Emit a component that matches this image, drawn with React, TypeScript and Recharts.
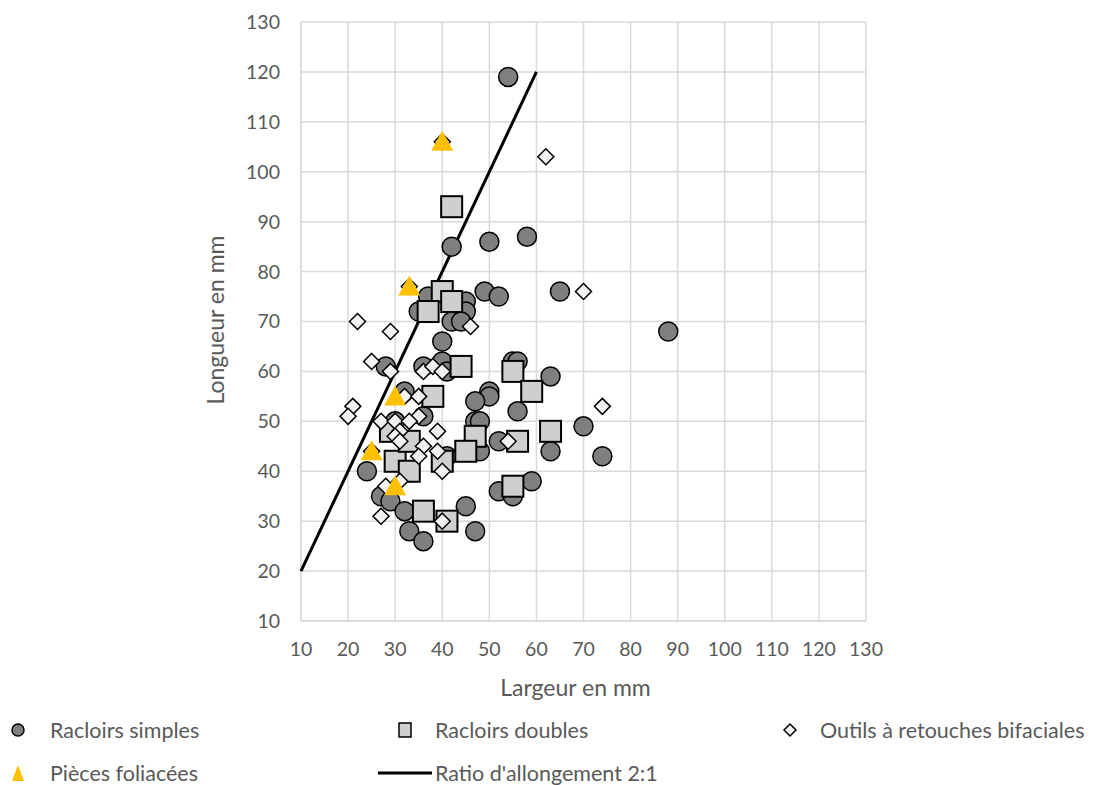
import React from 'react';
import { ScatterChart, Scatter, XAxis, YAxis, CartesianGrid } from 'recharts';

// largeur (mm), longueur (mm)
const racloirsSimples: [number, number][] = [
  [54, 119], [42, 85], [50, 86], [58, 87], [65, 76], [88, 68], [49, 76], [52, 75],
  [37, 75], [45, 74], [45, 72], [35, 72], [42, 70], [44, 70], [40, 66], [28, 61],
  [36, 61], [40, 62], [41, 60], [55, 62], [56, 62], [63, 59], [50, 56], [50, 55],
  [47, 54], [56, 52], [32, 56], [36, 51], [47, 50], [48, 50], [48, 44], [52, 46],
  [70, 49], [63, 44], [74, 43], [24, 40], [27, 35], [29, 34], [32, 32], [45, 33],
  [33, 28], [36, 26], [47, 28], [52, 36], [55, 35], [59, 38], [30, 50], [41, 43],
];

const racloirsDoubles: [number, number][] = [
  [42, 93], [40, 76], [42, 74], [37, 72], [44, 61], [55, 60], [59, 56], [38, 55],
  [47, 47], [56, 46], [63, 48], [45, 44], [40, 42], [30, 42], [33, 40], [33, 46],
  [29, 48], [36, 32], [41, 30], [55, 37],
];

const outilsBifaciaux: [number, number][] = [
  [62, 103], [70, 76], [40, 106], [33, 77], [22, 70], [29, 68], [46, 69], [25, 62],
  [29, 60], [36, 60], [38, 61], [40, 60], [21, 53], [20, 51], [32, 55], [35, 55],
  [35, 51], [27, 50], [30, 50], [33, 50], [39, 48], [31, 48], [30, 47], [31, 46],
  [36, 45], [35, 43], [39, 44], [40, 40], [28, 37], [31, 38], [27, 31], [40, 30],
  [54, 46], [74, 53], [25, 44],
];

const piecesFoliacees: [number, number][] = [
  [40, 106], [33, 77], [30, 55], [25, 44], [30, 37],
];

const ratioLine: [number, number][] = [[10, 20], [60, 120]];

const axisTicks = [10, 20, 30, 40, 50, 60, 70, 80, 90, 100, 110, 120, 130];

const toPoints = (arr: [number, number][]) => arr.map(([x, y]) => ({ x, y }));

const FONT = 'Lato, "Open Sans", sans-serif';
const TEXT = '#595959';

const CircleShape = (p: any) => (
  <circle cx={p.cx} cy={p.cy} r={9.5} fill="#7f7f7f" stroke="#000" strokeWidth={1.5} />
);
const SquareShape = (p: any) => (
  <rect x={p.cx - 10.5} y={p.cy - 10.5} width={21} height={21} fill="#d0cece" stroke="#000" strokeWidth={2} />
);
const DiamondShape = (p: any) => (
  <path
    d={`M${p.cx},${p.cy - 8} L${p.cx + 8},${p.cy} L${p.cx},${p.cy + 8} L${p.cx - 8},${p.cy} Z`}
    fill="#f2f2f2"
    stroke="#000"
    strokeWidth={1.5}
  />
);
const TriangleShape = (p: any) => (
  <path
    d={`M${p.cx},${p.cy - 11} L${p.cx + 11},${p.cy + 9} L${p.cx - 11},${p.cy + 9} Z`}
    fill="#ffc000"
  />
);
const NoShape = () => <g />;

const YLabel = () => (
  <text
    x={215}
    y={320}
    transform="rotate(-90, 215, 320)"
    textAnchor="middle"
    dominantBaseline="central"
    fill={TEXT}
    fontSize={23}
    fontFamily={FONT}
  >
    Longueur en  mm
  </text>
);

const legendText: React.CSSProperties = {
  position: 'absolute',
  fontSize: 21.5,
  color: TEXT,
  fontFamily: FONT,
  lineHeight: '22px',
  whiteSpace: 'nowrap',
};

export default function App() {
  return (
    <div style={{ position: 'absolute', left: 0, top: 0, width: 1097, height: 785, background: '#fff' }}>
      <ScatterChart width={1097} height={712} margin={{ top: 22, right: 231, bottom: 12, left: 0 }}>
        <CartesianGrid stroke="#d9d9d9" strokeWidth={1.5} />
        <XAxis
          type="number"
          dataKey="x"
          domain={[10, 130]}
          ticks={axisTicks}
          interval={0}
          height={79}
          axisLine={{ stroke: '#d9d9d9' }}
          tickLine={false}
          tickSize={0}
          tickMargin={21}
          tick={{ fill: TEXT, fontSize: 19.5, fontFamily: FONT }}
          label={{ value: 'Largeur en mm', position: 'insideBottom', offset: 4, dx: -8, fill: TEXT, fontSize: 23, fontFamily: FONT }}
        />
        <YAxis
          type="number"
          dataKey="y"
          domain={[10, 130]}
          ticks={axisTicks}
          interval={0}
          width={301}
          axisLine={{ stroke: '#d9d9d9' }}
          tickLine={false}
          tickSize={0}
          tickMargin={21}
          tick={{ fill: TEXT, fontSize: 19.5, fontFamily: FONT }}
          label={<YLabel />}
        />
        <Scatter
          data={toPoints(ratioLine)}
          line={{ stroke: '#000', strokeWidth: 3 }}
          lineType="joint"
          shape={NoShape}
          isAnimationActive={false}
        />
        <Scatter data={toPoints(racloirsSimples)} shape={CircleShape} isAnimationActive={false} />
        <Scatter data={toPoints(racloirsDoubles)} shape={SquareShape} isAnimationActive={false} />
        <Scatter data={toPoints(outilsBifaciaux)} shape={DiamondShape} isAnimationActive={false} />
        <Scatter data={toPoints(piecesFoliacees)} shape={TriangleShape} isAnimationActive={false} />
      </ScatterChart>

      <svg style={{ position: 'absolute', left: 0, top: 700 }} width={1097} height={85}>
        <circle cx={18} cy={30} r={6} fill="#7f7f7f" stroke="#000" strokeWidth={1.5} />
        <rect x={399} y={23} width={12} height={14} fill="#d0cece" stroke="#000" strokeWidth={1.5} />
        <path d="M790,24 L796,30 L790,36 L784,30 Z" fill="#f2f2f2" stroke="#000" strokeWidth={1.5} />
        <path d="M18,65 L24,81 L12,81 Z" fill="#ffc000" />
        <line x1={378} y1={73} x2={432} y2={73} stroke="#000" strokeWidth={3} />
      </svg>
      <div style={{ ...legendText, left: 50, top: 719 }}>Racloirs simples</div>
      <div style={{ ...legendText, left: 435, top: 719 }}>Racloirs doubles</div>
      <div style={{ ...legendText, left: 820, top: 719 }}>Outils à retouches bifaciales</div>
      <div style={{ ...legendText, left: 50, top: 762 }}>Pièces foliacées</div>
      <div style={{ ...legendText, left: 435, top: 762 }}>Ratio d'allongement 2:1</div>
    </div>
  );
}
